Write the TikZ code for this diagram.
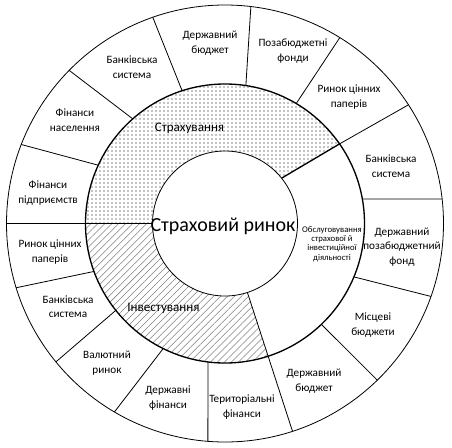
\documentclass[tikz,border=0pt]{standalone}
\usepackage{fontspec}
\setmainfont{Carlito}
\usetikzlibrary{patterns.meta}
\begin{document}
\begin{tikzpicture}[x=0.75pt,y=0.75pt,
  lbl/.style={align=center,font=\fontsize{8.4}{10.9}\selectfont,inner sep=0pt},
  sectorlbl/.style={font=\fontsize{9.8}{12}\selectfont,inner sep=0pt},
  smalllbl/.style={align=center,font=\fontsize{6.5}{7}\selectfont,inner sep=0pt},
  biglbl/.style={font=\fontsize{15}{18}\selectfont,inner sep=0pt},
  seg/.style={line width=0.6pt},
  bold/.style={line width=1pt},
]
\useasboundingbox (-225,-223.5) rectangle (227,223.5);
% insurance sector (dots)
\begin{scope}
  \clip (-300,0) -- (0,0) -- (0,12.6) -- (300,186.1) -- (300,300) -- (-300,300) -- cycle;
  \fill[even odd rule,pattern={Dots[radius=0.5pt,distance=3pt]}] (0,0) circle[radius=139.5] (0,0) circle[radius=72.5];
\end{scope}
% investment sector (hatch)
\begin{scope}
  \clip (0,0) -- (-300,0) -- (-300,-450) -- (146.2,-450) -- cycle;
  \fill[even odd rule,pattern={Lines[angle=45,distance=3.7pt,line width=0.4pt]},pattern color=gray] (0,0) circle[radius=139.5] (0,0) circle[radius=72.5];
\end{scope}
% circles
\draw[seg] (0,0) circle[radius=218.5];
\draw[bold] (0,0) circle[radius=139.5];
\draw[seg] (0,0) circle[radius=72.5];
% segment lines
\draw[seg] (107.9:139.5) -- (109.3:218.5);
\draw[seg] (81.4:139.5) -- (83.2:218.5);
\draw[seg] (59.3:139.5) -- (58.3:218.5);
\draw[bold] (38.7:72.5) -- (34.8:139.5);
\draw[seg] (34.8:139.5) -- (32.9:218.5);
\draw[seg] (10.1:139.5) -- (6.45:218.5);
\draw[seg] (-22.5:139.5) -- (-19.5:218.5);
\draw[seg] (-46.3:139.5) -- (-45.8:218.5);
\draw[seg] (-72:72.5) -- (-72:218.5);
\draw[seg] (-97.0:139.5) -- (-94.5:218.5);
\draw[seg] (-116.3:139.5) -- (-120.4:218.5);
\draw[seg] (-141.5:139.5) -- (-140.7:218.5);
\draw[seg] (-159.9:139.5) -- (-162.9:218.5);
\draw[seg] (180:72.5) -- (180:218.5);
\draw[seg] (155.3:139.5) -- (158.8:218.5);
\draw[seg] (131.4:139.5) -- (135.5:218.5);
% labels
\node[lbl] (db1) at (-15,180.5) {Державний\\бюджет};
\node[lbl] (pf) at (68,172.5) {Позабюджетні\\фонди};
\node[lbl] (rcp1) at (124,126.5) {Ринок цінних\\паперів};
\node[lbl] (bs1) at (166,57.5) {Банківська\\система};
\node[lbl] (dpf) at (177,-23.5) {Державний\\позабюджетний\\фонд};
\node[lbl] (mb) at (148,-101.5) {Місцеві\\бюджети};
\node[lbl] (db2) at (89,-157.5) {Державний\\бюджет};
\node[lbl] (tf) at (17,-183.5) {Територіальні\\фінанси};
\node[lbl] (df) at (-57,-174.5) {Державні\\фінанси};
\node[lbl] (vr) at (-118,-139.5) {Валютний\\ринок};
\node[lbl] (bs2) at (-157,-83) {Банківська\\система};
\node[lbl] (rcp2) at (-175,-28.5) {Ринок цінних\\паперів};
\node[lbl] (fp) at (-177,30.5) {Фінанси\\підприємств};
\node[lbl] (fn) at (-150,103.5) {Фінанси\\населення};
\node[lbl] (bs3) at (-93,156.5) {Банківська\\система};
\node[sectorlbl] (str) at (-35.5,95.5) {Страхування};
\node[sectorlbl] (inv) at (-61.5,-84.5) {Інвестування};
\node[smalllbl] (obs) at (107,-20.5) {Обслуговування\\страхової й\\інвестиційної\\діяльності};
\node[biglbl] (sr) at (-2,-2.5) {Страховий ринок};
\end{tikzpicture}
\end{document}
